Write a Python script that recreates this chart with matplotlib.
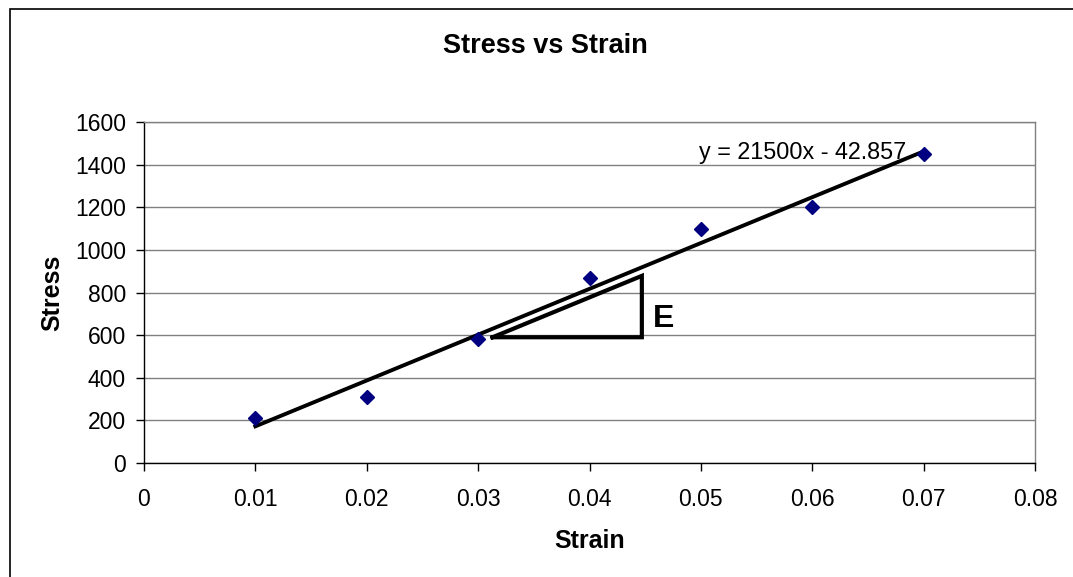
import numpy as np
import matplotlib
matplotlib.use("Agg")
import matplotlib.pyplot as plt
from matplotlib.patches import Rectangle

plt.rcParams['font.family'] = ['Liberation Sans', 'DejaVu Sans']

# measured strain / stress values
strain = [0.01, 0.02, 0.03, 0.04, 0.05, 0.06, 0.07]
stress = [210, 310, 580, 870, 1100, 1200, 1450]

# slope triangle corners (strain range, base stress)
tri_x = [0.0313, 0.0447]
tri_y0 = 590

xticks = [0, 0.01, 0.02, 0.03, 0.04, 0.05, 0.06, 0.07, 0.08]
xtick_labels = ["0", "0.01", "0.02", "0.03", "0.04", "0.05", "0.06", "0.07", "0.08"]
yticks = [0, 200, 400, 600, 800, 1000, 1200, 1400, 1600]

W, H = 1073, 577
fig = plt.figure(figsize=(W / 100, H / 100), dpi=100)

# chart frame (runs off the right and bottom edge)
fig.patches.append(Rectangle((10 / W, -0.1), 1.2, 1 - 9 / H + 0.1,
                             transform=fig.transFigure, fill=False,
                             edgecolor="black", linewidth=1.2, clip_on=False))

ax = fig.add_axes([144 / W, (H - 463) / H, 891 / W, 341 / H])

ax.set_xlim(0, 0.08)
ax.set_ylim(0, 1600)
ax.set_xticks(xticks)
ax.set_xticklabels(xtick_labels)
ax.set_yticks(yticks)
ax.yaxis.grid(True, color="#808080", linewidth=1.0)
ax.set_axisbelow(True)

for side in ("top", "right"):
    ax.spines[side].set_color("#808080")
    ax.spines[side].set_linewidth(1.0)
for side in ("left", "bottom"):
    ax.spines[side].set_color("black")
    ax.spines[side].set_linewidth(1.0)

ax.tick_params(axis="both", direction="out", length=6, width=1,
               labelsize=16.5, colors="black")
ax.tick_params(axis="x", pad=12)
ax.tick_params(axis="y", pad=7)

# linear fit
m, b = np.polyfit(strain, stress, 1)
fit_x = np.array([strain[0], strain[-1]])
ax.plot(fit_x, m * fit_x + b, color="black", linewidth=2.8, zorder=2)

ax.plot(strain, stress, linestyle="None", marker="D", markersize=7,
        color="#000080", zorder=3)

# slope triangle parallel to the fit
tri_top = tri_y0 + m * (tri_x[1] - tri_x[0])
ax.plot([tri_x[0], tri_x[1], tri_x[1], tri_x[0]],
        [tri_y0, tri_y0, tri_top, tri_y0],
        color="black", linewidth=3.0, solid_joinstyle="miter", zorder=2)
ax.text(tri_x[1] + 0.001, (tri_y0 + tri_top) / 2 - 58, "E",
        fontsize=23, fontweight="bold", ha="left", va="center")

sign = "-" if b < 0 else "+"
ax.text(0.0591, 1455, "y = %.0fx %s %.3f" % (m, sign, abs(b)),
        fontsize=16.8, ha="center", va="center")

ax.set_xlabel("Strain", fontsize=18, fontweight="bold", labelpad=13)
ax.set_ylabel("Stress", fontsize=18, fontweight="bold", labelpad=8)
fig.text(545 / W, 1 - 46 / H, "Stress vs Strain", fontsize=19.5,
         fontweight="bold", ha="center", va="center")

fig.savefig("out.png", dpi=100)
